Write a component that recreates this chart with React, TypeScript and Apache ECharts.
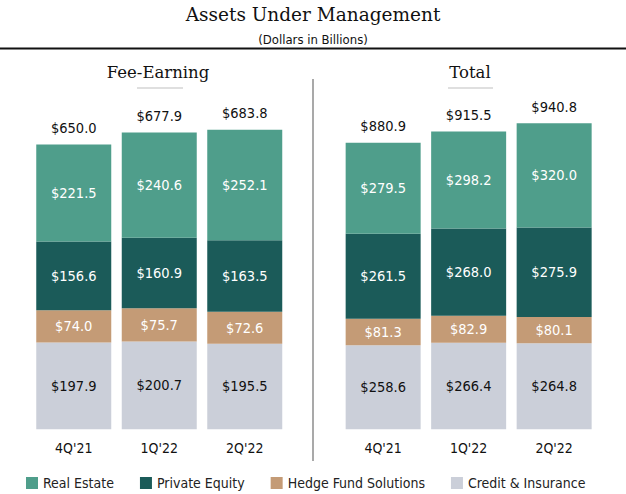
import React, { useEffect, useRef } from "react";
import * as echarts from "echarts";

const quarters = ["4Q'21", "1Q'22", "2Q'22"];
const seriesNames = ["Real Estate", "Private Equity", "Hedge Fund Solutions", "Credit & Insurance"];

// Fee-Earning AUM
const feeRealEstate = [221.5, 240.6, 252.1];
const feePrivateEquity = [156.6, 160.9, 163.5];
const feeHedgeFund = [74.0, 75.7, 72.6];
const feeCredit = [197.9, 200.7, 195.5];
const feeTotal = [650.0, 677.9, 683.8];

// Total AUM
const totRealEstate = [279.5, 298.2, 320.0];
const totPrivateEquity = [261.5, 268.0, 275.9];
const totHedgeFund = [81.3, 82.9, 80.1];
const totCredit = [258.6, 266.4, 264.8];
const totTotal = [880.9, 915.5, 940.8];

const colors: Record<string, string> = {
  "Real Estate": "#4f9e8b",
  "Private Equity": "#1b5b59",
  "Hedge Fund Solutions": "#c49b76",
  "Credit & Insurance": "#cbcfd9",
};

const SANS = "DejaVu Sans Condensed, DejaVu Sans, sans-serif";
const SERIF = "DejaVu Serif, serif";

const fmt = (v: number) => "$" + v.toFixed(1);

export default function App() {
  const ref = useRef<HTMLDivElement>(null);

  useEffect(() => {
    if (!ref.current) return;
    const chart = echarts.init(ref.current, null, { renderer: "svg" });

    const panels = [
      { key: "fee", data: [feeRealEstate, feePrivateEquity, feeHedgeFund, feeCredit], total: feeTotal },
      { key: "tot", data: [totRealEstate, totPrivateEquity, totHedgeFund, totCredit], total: totTotal },
    ];

    const series: any[] = [];
    panels.forEach((p, i) => {
      series.push({
        type: "bar",
        name: "Total",
        xAxisIndex: i,
        yAxisIndex: i,
        data: p.total,
        barWidth: 75,
        barGap: "-100%",
        itemStyle: { color: "rgba(0,0,0,0)" },
        label: {
          show: true,
          position: "top",
          distance: 9,
          formatter: (d: any) => fmt(d.value),
          color: "#111",
          fontSize: 14.5,
          fontFamily: SANS,
        },
        z: 1,
        silent: true,
      });
      // stack from bottom: credit, hedge, PE, RE
      [3, 2, 1, 0].forEach((k) => {
        const name = seriesNames[k];
        series.push({
          type: "bar",
          name,
          stack: p.key,
          xAxisIndex: i,
          yAxisIndex: i,
          data: p.data[k],
          barWidth: 75,
          barGap: "-100%",
          itemStyle: { color: colors[name] },
          label: {
            show: true,
            position: "inside",
            formatter: (d: any) => fmt(d.value),
            color: k === 3 ? "#111" : "#ffffff",
            fontSize: 14.5,
            fontFamily: SANS,
          },
          z: 2,
        });
      });
    });

    const xAxisBase = {
      type: "category",
      data: quarters,
      axisLine: { show: false },
      axisTick: { show: false },
      axisLabel: { color: "#111", fontSize: 14, fontFamily: SANS, margin: 12 },
    };
    const yAxisBase = {
      type: "value",
      min: 0,
      show: false,
      splitLine: { show: false },
    };

    chart.setOption({
      animation: false,
      backgroundColor: "#ffffff",
      grid: [
        { left: 31, top: 100.8, width: 256.5, height: 328.5 },
        { left: 340.4, top: 100.8, width: 256.5, height: 328.5 },
      ],
      xAxis: [
        { ...xAxisBase, gridIndex: 0 },
        { ...xAxisBase, gridIndex: 1 },
      ],
      yAxis: [
        { ...yAxisBase, gridIndex: 0, max: 750 },
        { ...yAxisBase, gridIndex: 1, max: 1010 },
      ],
      legend: {
        data: seriesNames,
        left: 21,
        top: 471,
        itemWidth: 12,
        itemHeight: 12,
        itemGap: 26,
        icon: "rect",
        textStyle: { color: "#222", fontSize: 14, fontFamily: SANS },
        selectedMode: false,
      },
      graphic: [
        {
          type: "text",
          x: 313,
          y: 14,
          style: {
            text: "Assets Under Management",
            font: "18.5px " + SERIF,
            fill: "#111",
            textAlign: "center",
            textVerticalAlign: "middle",
          },
        },
        {
          type: "text",
          x: 313,
          y: 39,
          style: {
            text: "(Dollars in Billions)",
            font: "13px " + SANS,
            fill: "#111",
            textAlign: "center",
            textVerticalAlign: "middle",
          },
        },
        {
          type: "line",
          shape: { x1: 0, y1: 48.5, x2: 626, y2: 48.5 },
          style: { stroke: "#111", lineWidth: 2 },
        },
        {
          type: "text",
          x: 158,
          y: 72,
          style: {
            text: "Fee-Earning",
            font: "16.5px " + SERIF,
            fill: "#111",
            textAlign: "center",
            textVerticalAlign: "middle",
          },
        },
        {
          type: "text",
          x: 470,
          y: 72,
          style: {
            text: "Total",
            font: "16.5px " + SERIF,
            fill: "#111",
            textAlign: "center",
            textVerticalAlign: "middle",
          },
        },
        {
          type: "line",
          shape: { x1: 137, y1: 88, x2: 183, y2: 88 },
          style: { stroke: "#d4d4d4", lineWidth: 1.5 },
        },
        {
          type: "line",
          shape: { x1: 448, y1: 88, x2: 493, y2: 88 },
          style: { stroke: "#d4d4d4", lineWidth: 1.5 },
        },
        {
          type: "line",
          shape: { x1: 313, y1: 79, x2: 313, y2: 461 },
          style: { stroke: "#8c8c8c", lineWidth: 1.5 },
        },
      ],
      series,
    });

    return () => chart.dispose();
  }, []);

  return (
    <div
      ref={ref}
      style={{ position: "fixed", left: 0, top: 0, width: 626, height: 494 }}
    />
  );
}
